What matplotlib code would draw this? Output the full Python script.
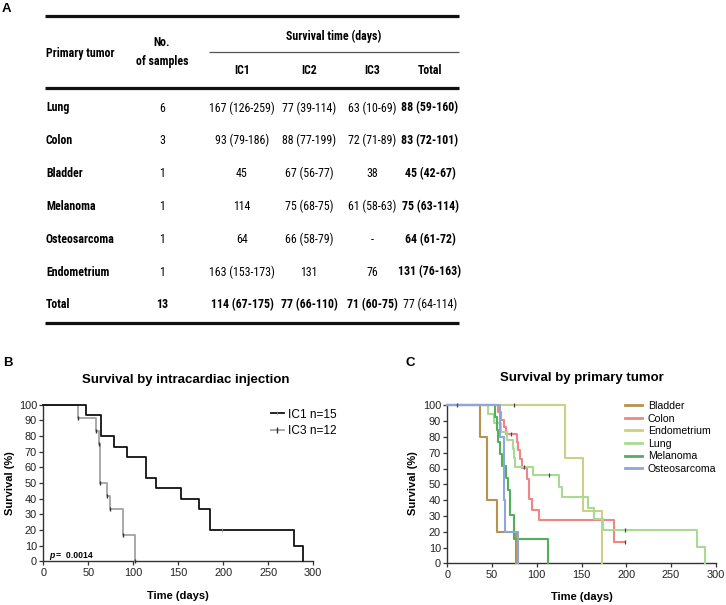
import matplotlib
matplotlib.use("Agg")
import matplotlib.pyplot as plt
from matplotlib import font_manager as fm
from matplotlib.lines import Line2D

# ---------------- Panel A: table data ----------------
tumors = ["Lung", "Colon", "Bladder", "Melanoma", "Osteosarcoma", "Endometrium", "Total"]
n_samples = ["6", "3", "1", "1", "1", "1", "13"]
ic1_time = ["167 (126-259)", "93 (79-186)", "45", "114", "64", "163 (153-173)", "114 (67-175)"]
ic2_time = ["77 (39-114)", "88 (77-199)", "67 (56-77)", "75 (68-75)", "66 (58-79)", "131", "77 (66-110)"]
ic3_time = ["63 (10-69)", "72 (71-89)", "38", "61 (58-63)", "-", "76", "71 (60-75)"]
total_time = ["88 (59-160)", "83 (72-101)", "45 (42-67)", "75 (63-114)", "64 (61-72)", "131 (76-163)", "77 (64-114)"]
col_headers = ["IC1", "IC2", "IC3", "Total"]

# ---------------- Panel B: survival by intracardiac injection ----------------
ic1_t = [0, 47, 64, 78.5, 92.6, 113.7, 124.8, 153, 173, 185.6, 278.5, 288]
ic1_s = [100, 93.3, 80, 73.3, 66.7, 53.3, 46.7, 40, 33.3, 20, 10, 0]
ic1_cens_t = [198]
ic1_cens_s = [20]
ic3_t = [0, 38, 58, 62, 63, 71, 74, 89, 102]
ic3_s = [100, 91.7, 83.3, 75, 50, 41.7, 33.3, 16.7, 0]
p_value = "0.0014"

# ---------------- Panel C: survival by primary tumor ----------------
bladder_t = [0, 37, 44, 55, 77]
bladder_s = [100, 80, 40, 20, 0]
colon_t = [0, 57, 60, 63, 66, 77.5, 79.3, 81.2, 83, 88.7, 91.6, 94.2, 102.8, 186, 199]
colon_s = [100, 95.5, 90.9, 86.4, 81.8, 76.7, 71.6, 66, 60.5, 53.5, 41, 33.7, 27.3, 13.6, 13.6]
endo_t = [0, 131, 152, 173.3]
endo_s = [100, 66.7, 33.3, 0]
lung_t = [0, 45.5, 52, 60.5, 66.3, 73, 74.5, 76, 96, 125, 128.6, 157, 164.4, 174.4, 279, 288]
lung_s = [100, 94.4, 88.9, 83.3, 77.8, 72.2, 66.7, 61.1, 55.6, 48.6, 41.7, 34.7, 27.8, 20.8, 10.4, 0]
mel_t = [0, 53, 55, 57, 59, 61, 66, 68, 70, 74, 113]
mel_s = [100, 92.3, 84.6, 76.9, 69.2, 61.5, 53.8, 46.2, 30.8, 15.4, 0]
osteo_t = [0, 58.5, 63, 64.5, 79]
osteo_s = [100, 80, 40, 20, 0]
cens_t = [10.4, 75, 70.8, 199, 86, 113.6, 198.6]
cens_s = [100, 100, 81.8, 13.6, 61.1, 55.6, 20.8]

tumor_names = ["Bladder", "Colon", "Endometrium", "Lung", "Melanoma", "Osteosarcoma"]
tumor_colors = ["#b8924e", "#ee8686", "#cdcf86", "#a8da93", "#52b05b", "#8ea6da"]

# ---------------- fonts ----------------
MAIN = ["Liberation Sans", "DejaVu Sans"]
plt.rcParams["font.family"] = MAIN

entries = fm.fontManager.ttflist
names = {f.name for f in entries}
narrow_family = None
narrow_stretch = "normal"
for cand in ["Liberation Sans Narrow", "Arial Narrow", "Roboto Condensed", "Open Sans Condensed",
             "Noto Sans Condensed", "DejaVu Sans Condensed"]:
    if cand in names:
        narrow_family = cand
        break
if narrow_family is None:
    for f in entries:
        st = str(f.stretch)
        if f.name in ("Liberation Sans", "Noto Sans", "Roboto", "Open Sans", "DejaVu Sans") and \
                st in ("condensed", "semi-condensed", "extra-condensed", "75", "87.5"):
            narrow_family = f.name
            narrow_stretch = "condensed" if "semi" not in st else "semi-condensed"
            break
if narrow_family is None:
    narrow_family = "Liberation Sans"
NARROW = [narrow_family, "Liberation Sans", "DejaVu Sans"]

W, H = 726, 605
fig = plt.figure(figsize=(W / 100, H / 100), dpi=100)
renderer = fig.canvas.get_renderer()

# overlay axes in pixel coordinates for text/table layout
ov = fig.add_axes([0, 0, 1, 1])
ov.set_xlim(0, W)
ov.set_ylim(H, 0)
ov.axis("off")
ov.patch.set_alpha(0)

# choose table font size so that the header text width matches the reference
probe = ov.text(0, 0, "Survival time (days)", fontsize=10, fontweight="bold",
                family=NARROW, fontstretch=narrow_stretch)
wprobe = probe.get_window_extent(renderer).width
probe.remove()
tfs = min(9.3, 10 * 95.0 / wprobe)

def ttext(x, y, s, bold=False, ha="center"):
    ov.text(x, y, s, fontsize=tfs, fontweight="bold" if bold else "normal", ha=ha, va="center",
            family=NARROW, fontstretch=narrow_stretch)

# ---------------- Panel A ----------------
ov.text(2, 9, "A", fontsize=9.5, fontweight="bold", va="center", ha="left")
x0, x1 = 45, 459
ov.plot([x0, x1], [15.5, 15.5], color="#111", lw=2.3, solid_capstyle="butt")
ov.plot([209, x1], [52, 52], color="#555", lw=0.9, solid_capstyle="butt")
ov.plot([x0, x1], [88, 88], color="#111", lw=2.3, solid_capstyle="butt")
ov.plot([x0, x1], [322.5, 322.5], color="#111", lw=2.3, solid_capstyle="butt")

ttext(334, 36, "Survival time (days)", bold=True)
ttext(46, 53, "Primary tumor", bold=True, ha="left")
ttext(162, 43, "No.", bold=True)
ttext(162, 61, "of samples", bold=True)
col_x = [242, 309, 372, 430]
for cx, h in zip(col_x, col_headers):
    ttext(cx, 71, h, bold=True)

nrows = len(tumors)
for i in range(nrows):
    y = 108 + i * 32.8
    last = (i == nrows - 1)
    ttext(46, y, tumors[i], bold=True, ha="left")
    ttext(162, y, n_samples[i], bold=last)
    vals = [ic1_time[i], ic2_time[i], ic3_time[i], total_time[i]]
    for j, (cx, v) in enumerate(zip(col_x, vals)):
        ttext(cx, y, v, bold=((j == 3) != last))

# ---------------- helper for KM axes ----------------
def px_axes(l, r, t, b):
    return fig.add_axes([l / W, 1 - b / H, (r - l) / W, (b - t) / H])

def style_km(ax):
    ax.set_xlim(0, 300)
    ax.set_ylim(0, 100)
    ax.set_xticks(range(0, 301, 50))
    ax.set_yticks(range(0, 101, 10))
    for s in ["top", "right"]:
        ax.spines[s].set_visible(False)
    for s in ["left", "bottom"]:
        ax.spines[s].set_linewidth(1.0)
        ax.spines[s].set_color("#333")
    ax.tick_params(axis="both", labelsize=7.9, length=3, width=0.9, color="#333", pad=1.5,
                   labelcolor="#222")
    ax.patch.set_alpha(0)

# ---------------- Panel B ----------------
axB = px_axes(43.3, 313.3, 404.7, 561.3)
style_km(axB)
axB.step(ic3_t, ic3_s, where="post", color="#a3a3a3", lw=1.3, clip_on=False, zorder=3)
axB.plot(ic3_t[1:], ic3_s[1:], ls="none", marker="|", ms=3.5, mew=1.0, color="#333", clip_on=False, zorder=4)
axB.step(ic1_t, ic1_s, where="post", color="#111", lw=1.3, clip_on=False, zorder=5)
axB.plot(ic1_cens_t, ic1_cens_s, ls="none", marker="|", ms=3, mew=0.6, color="#999", clip_on=False, zorder=6)
hB = [Line2D([], [], color="#111", lw=1.3, marker="|", ms=3, mew=0.5, mec="#aaa"),
      Line2D([], [], color="#a3a3a3", lw=1.3, marker="|", ms=4, mew=1.0, mec="#333")]
axB.legend(hB, ["IC1 n=15", "IC3 n=12"], loc="upper left", bbox_to_anchor=(0.842, 0.975),
           frameon=False, fontsize=8.6, handlelength=1.1, handletextpad=0.35,
           borderpad=0, borderaxespad=0, labelspacing=0.38)
ov.text(185.7, 380, "Survival by intracardiac injection", fontsize=9.5, fontweight="bold", ha="center", va="center")
ov.text(3, 362.5, "B", fontsize=9.5, fontweight="bold", ha="left", va="center")
ov.text(10.5, 483, "Survival (%)", fontsize=8, fontweight="bold", rotation=90, ha="center", va="center")
ov.text(178, 596, "Time (days)", fontsize=8, fontweight="bold", ha="center", va="center")
ov.text(49, 555.5, "p", fontsize=6.2, fontweight="bold", fontstyle="italic", ha="left", va="center")
ov.text(56, 555.5, "=  " + p_value, fontsize=6.2, fontweight="bold", ha="left", va="center")

# ---------------- Panel C ----------------
axC = px_axes(447.3, 715.7, 405.3, 563.3)
style_km(axC)
series = [(bladder_t, bladder_s), (colon_t, colon_s), (endo_t, endo_s),
          (lung_t, lung_s), (mel_t, mel_s), (osteo_t, osteo_s)]
draw_order = [2, 3, 1, 5, 4, 0]
for k in draw_order:
    t, s = series[k]
    axC.step(t, s, where="post", color=tumor_colors[k], lw=1.5, clip_on=False, zorder=3 + k * 0.1)
axC.plot(cens_t, cens_s, ls="none", marker="|", ms=3, mew=0.9, color="#444", clip_on=False, zorder=5)
hC = [Line2D([], [], color=c, lw=2.0) for c in tumor_colors]
axC.legend(hC, tumor_names, loc="upper left", bbox_to_anchor=(0.662, 1.028),
           frameon=False, fontsize=7.6, handlelength=1.6, handletextpad=0.55,
           borderpad=0, borderaxespad=0, labelspacing=0.25)
ov.text(581.7, 378, "Survival by primary tumor", fontsize=9.5, fontweight="bold", ha="center", va="center")
ov.text(405, 362.5, "C", fontsize=9.5, fontweight="bold", ha="left", va="center")
ov.text(413, 483, "Survival (%)", fontsize=8, fontweight="bold", rotation=90, ha="center", va="center")
ov.text(581.5, 596.5, "Time (days)", fontsize=8, fontweight="bold", ha="center", va="center")

fig.savefig("out.png", dpi=100)
